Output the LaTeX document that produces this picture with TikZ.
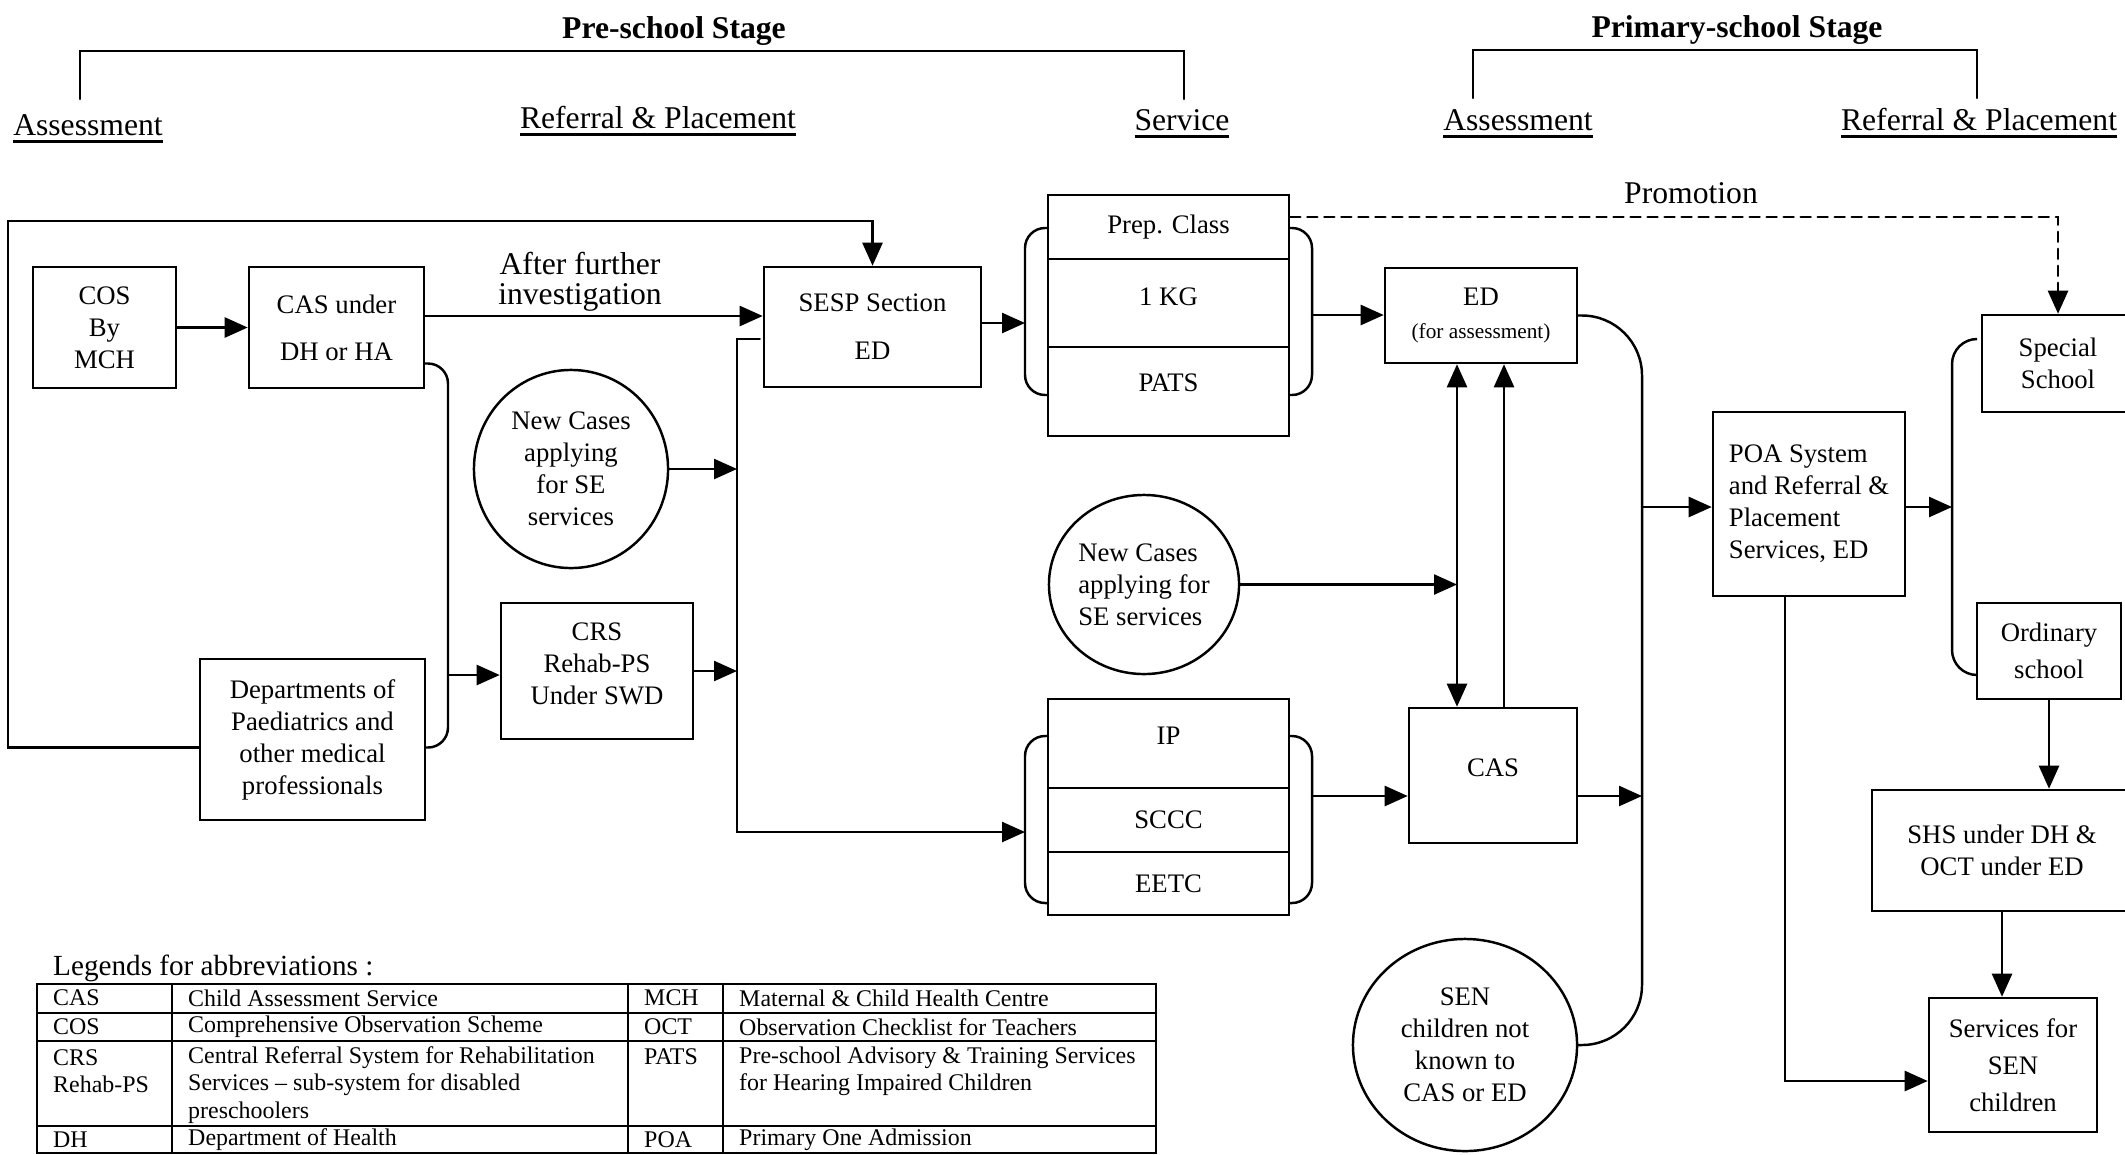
\documentclass[tikz,border=0pt]{standalone}
\usepackage{fontspec}
\setmainfont{Liberation Serif}
\usetikzlibrary{arrows.meta,calc,shapes.geometric}

\newcommand\fntHead{\fontsize{9}{9.4}\selectfont}
\newcommand\fntBox{\fontsize{7.6}{9.1}\selectfont}
\newcommand\fntLeg{\fontsize{6.8}{7.8}\selectfont}
\newcommand\fntLegTitle{\fontsize{8.3}{10}\selectfont}
\newcommand\fntSmall{\fontsize{6.05}{7}\selectfont}
\newcommand\stageul[1]{\setbox0=\hbox{#1}\rlap{\rule[-2.2pt]{\wd0}{0.8pt}}\box0}

\tikzset{
	box/.style={draw, inner sep=0pt, align=center, font=\fntBox},
	bubble/.style={draw, ellipse, inner sep=0pt, align=center, font=\fntBox},
	head/.style={inner sep=0pt, font=\fntHead, anchor=base},
	legtxt/.style={inner sep=0pt, font=\fntLeg, anchor=west, align=left},
	arr/.style={-{Triangle[length=0.23cm,width=0.2cm]}},
	dblarr/.style={{Triangle[length=0.23cm,width=0.2cm]}-{Triangle[length=0.23cm,width=0.2cm]}},
	promo/.style={dash pattern=on 0.1cm off 0.07cm},
}

\def\serviceBrackets{\draw[rounded corners=0.2cm] (23,0)--(0,0)--(0,167)--(23,167);\draw[rounded corners=0.2cm] (264,0)--(287,0)--(287,167)--(264,167);}

\begin{document}
\begin{tikzpicture}[x=0.01cm, y=-0.01cm, line cap=round, line width=0.7pt]
		\useasboundingbox (0,0) rectangle (2125,1154);
		\fill[white] (0,0) rectangle (2125,1154);
		
		% stage headings
		\node[head, font=\fntHead\bfseries] (preStage) at (674,38) {Pre-school Stage};
		\node[head, font=\fntHead\bfseries] (priStage) at (1737,37) {Primary-school Stage};
		\node[head] (preAssess) at (88,135) {\stageul{Assessment}};
		\node[head] (preRefer) at (658,128) {\stageul{Referral \& Placement}};
		\node[head] (preService) at (1182,130) {\stageul{Service}};
		\node[head] (priAssess) at (1518,130) {\stageul{Assessment}};
		\node[head] (priRefer) at (1979,130) {\stageul{Referral \& Placement}};
		\draw (80,99) |- (1184,51) -- (1184,99);
		\draw (1473,98) |- (1977,50) -- (1977,98);
		
		% pre-school boxes
		\node[box, minimum width=1.43cm, minimum height=1.21cm] (cos) at (104.5,327.5) {COS\\By\\MCH};
		\node[box, minimum width=1.75cm, minimum height=1.21cm] (casDH) at (336.5,327.5) {CAS under\\[4.3pt]DH or HA};
		\node[box, minimum width=2.17cm, minimum height=1.2cm] (sesp) at (872.5,327) {SESP Section\\[4.6pt]ED};
		\node[bubble, minimum width=1.94cm, minimum height=1.98cm] (newL) at (571,469) {New Cases\\applying\\for SE\\services};
		\node[box, minimum width=2.25cm, minimum height=1.61cm] (depts) at (312.5,739.5) {Departments of\\Paediatrics and\\other medical\\professionals};
		\node[box, minimum width=1.92cm, minimum height=1.36cm, text depth=0.15cm] (crs) at (597,671) {CRS\\Rehab-PS\\Under SWD};
		\node[inner sep=0pt, font=\fntHead, align=center] (afterLbl) at (580,282) {After further\\[-0.8pt]investigation};
		
		% service stacks
		\node[box, minimum width=2.41cm, minimum height=0.64cm] (prep) at (1168.5,227) {Prep. Class};
		\node[box, minimum width=2.41cm, minimum height=0.88cm, text depth=0.12cm] (kg) at (1168.5,303) {1 KG};
		\node[box, minimum width=2.41cm, minimum height=0.89cm, text depth=0.17cm] (pats) at (1168.5,391.5) {PATS};
		\node[box, minimum width=2.41cm, minimum height=0.89cm, text depth=0.15cm] (ip) at (1168.5,743.5) {IP};
		\node[box, minimum width=2.41cm, minimum height=0.64cm] (sccc) at (1168.5,820) {SCCC};
		\node[box, minimum width=2.41cm, minimum height=0.63cm] (eetc) at (1168.5,883.5) {EETC};
		\begin{scope}[shift={(1025,228)}]
			\serviceBrackets
		\end{scope}
		\begin{scope}[shift={(1025,736)}]
			\serviceBrackets
		\end{scope}
		
		% primary-school boxes
		\node[box, minimum width=1.92cm, minimum height=0.95cm] (edA) at (1481,315.5) {ED\\[0.4pt]{\fntSmall (for assessment)}};
		\node[bubble, minimum width=1.9cm, minimum height=1.79cm, align=left] (newM) at (1144,584.5) {New Cases\\applying for\\SE services};
		\node[box, minimum width=1.68cm, minimum height=1.35cm, text depth=0.15cm] (casB) at (1493,775.5) {CAS};
		\node[bubble, minimum width=2.24cm, minimum height=2.12cm] (senC) at (1465,1045) {SEN\\children not\\known to\\CAS or ED};
		\node[box, minimum width=1.92cm, minimum height=1.84cm, align=left] (poa) at (1809,504) {POA System\\and Referral \&\\Placement\\Services, ED};
		\node[box, minimum width=1.52cm, minimum height=0.97cm] (special) at (2058,363.5) {Special\\School};
		\node[box, minimum width=1.44cm, minimum height=0.96cm] (ordinary) at (2049,651) {Ordinary\\[1.4pt]school};
		\node[box, minimum width=2.6cm, minimum height=1.21cm] (shs) at (2002,850.5) {SHS under DH \&\\OCT under ED};
		\node[box, minimum width=1.68cm, minimum height=1.34cm] (senSvc) at (2013,1065) {Services for\\[1.4pt]SEN\\[1.4pt]children};
		\node[head] (promoLbl) at (1691,203) {Promotion};
		
		\coordinate (casBr) at (448,675);
		\coordinate (feedB) at (737,832);
		\coordinate (upL) at (1025,323);
		\coordinate (upR) at (1312,315);
		\coordinate (ipL) at (1025,832);
		\coordinate (ipR) at (1312,796);
		\coordinate (busP) at (1642,507);
		\coordinate (schL) at (1952,507);
		\coordinate (dUp) at ($(edA.south)+(-24,0)$);
		\coordinate (uUp) at ($(casB.north)+(11,0)$);
		
		% pre-school connectors
		\draw[arr] (cos) -- (casDH);
		\draw[arr] ($(casDH.east)+(0,-11.5)$) -- ($(sesp.west)+(0,-11)$);
		\draw[arr] ($(depts.west)+(0,8)$) -| (8,221) -| (sesp.north);
		\draw[rounded corners=0.2cm] ($(casDH.east)+(0,36)$) -| (casBr) |- ($(depts.east)+(0,8)$);
		\draw[arr] (casBr) -- (crs.west |- casBr);
		\draw[arr] ($(sesp.west)+(-3,12)$) -| (feedB) -- (ipL);
		\draw[arr] (newL.east) -- (newL.east -| feedB);
		\draw[arr] (crs.east) -- (crs.east -| feedB);
		\draw[arr] (sesp.east |- upL) -- (upL);
		
		% primary-school connectors
		\draw[arr] (upR) -- (upR -| edA.west);
		\draw[arr, promo] ($(prep.east)+(0,-10)$) -| (special.north);
		\draw[rounded corners=0.6cm] (edA.east) -| (busP) |- (senC.east);
		\draw[arr] (ipR) -- (ipR -| casB.west);
		\draw[arr] (ipR -| casB.east) -- (ipR -| busP);
		\draw[dblarr] (dUp) -- (dUp |- casB.north);
		\draw[arr] (uUp) -- (uUp |- edA.south);
		\draw[arr] (newM.east) -- (newM.east -| dUp);
		\draw[arr] (busP) -- (poa.west |- busP);
		\draw[arr] (poa.east |- schL) -- (schL);
		\draw[rounded corners=0.25cm] ($(special.west)+(-5,-24.5)$) -| (schL) |- ($(ordinary.west)+(0,24)$);
		\draw[arr] (ordinary.south) -- (ordinary.south |- shs.north);
		\draw[arr] (shs.south) -- (shs.south |- senSvc.north);
		\draw[arr] ($(poa.south)+(-24,0)$) |- ($(senSvc.west)+(0,16)$);
		
		% legend table
		\node[legtxt, font=\fntLegTitle] (legTitle) at (52,968) {Legends for abbreviations :};
		\draw (37,984) rectangle (1156,1153);
		\foreach \y in {1013,1041,1126} \draw (37,\y) -- (1156,\y);
		\foreach \x in {172,628,723} \draw (\x,984) -- (\x,1153);
		\node[legtxt] (kCAS) at (52,998) {CAS};
		\node[legtxt] (vCAS) at (187,998) {Child Assessment Service};
		\node[legtxt] (kMCH) at (643,998) {MCH};
		\node[legtxt] (vMCH) at (738,998) {Maternal \& Child Health Centre};
		\node[legtxt] (kCOS) at (52,1027) {COS};
		\node[legtxt] (vCOS) at (187,1027) {Comprehensive Observation Scheme};
		\node[legtxt] (kOCT) at (643,1027) {OCT};
		\node[legtxt] (vOCT) at (738,1027) {Observation Checklist for Teachers};
		\node[legtxt] (kCRS) at (52,1071) {CRS\\Rehab-PS};
		\node[legtxt] (vCRS) at (187,1085) {Central Referral System for Rehabilitation\\Services – sub-system for disabled\\preschoolers};
		\node[legtxt] (kPATS) at (643,1057) {PATS};
		\node[legtxt] (vPATS) at (738,1071) {Pre-school Advisory \& Training Services\\for Hearing Impaired Children};
		\node[legtxt] (kDH) at (52,1140) {DH};
		\node[legtxt] (vDH) at (187,1140) {Department of Health};
		\node[legtxt] (kPOA) at (643,1140) {POA};
		\node[legtxt] (vPOA) at (738,1140) {Primary One Admission};
\end{tikzpicture}
\end{document}
